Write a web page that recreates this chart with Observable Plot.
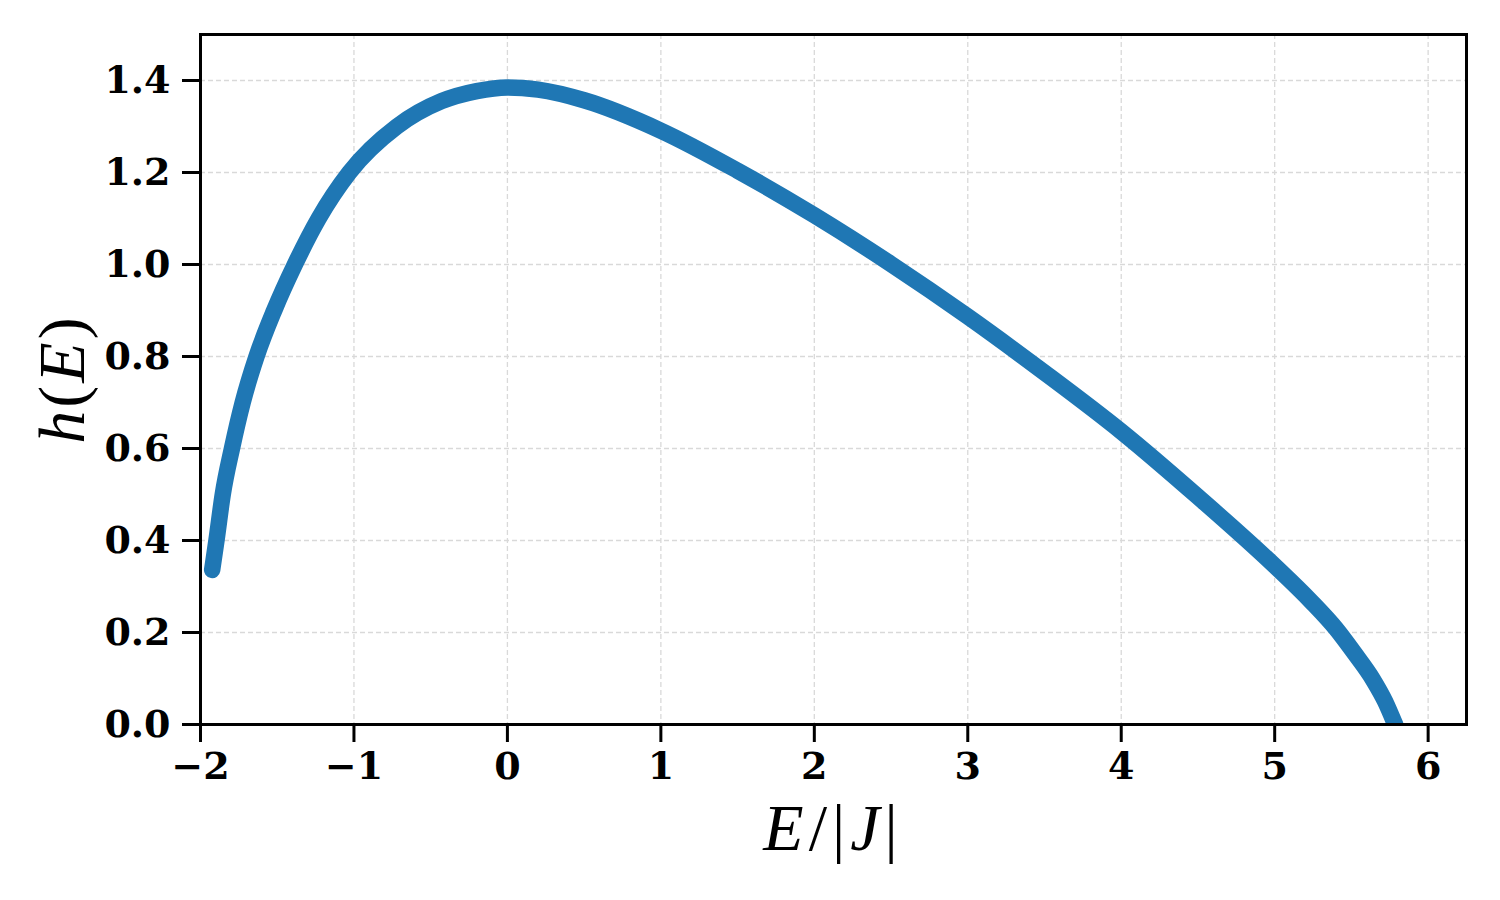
<!DOCTYPE html>
<html><head><meta charset="utf-8">
<script src="https://cdn.jsdelivr.net/npm/d3@7"></script>
<script src="https://cdn.jsdelivr.net/npm/@observablehq/plot@0.6"></script>
<style>body{margin:0;background:#fff}</style>
</head><body><div id="chart"></div>
<script>
const energy = [-1.924, -1.896, -1.855, -1.795, -1.725, -1.635, -1.52, -1.385, -1.23, -1.03, -0.72, -0.43, -0.2, 0, 0.2, 0.5, 1.0, 1.5, 2.0, 2.5, 3.0, 3.5, 4.0, 4.5, 5.0, 5.236, 5.40, 5.52, 5.64, 5.72, 5.785];
const entropy = [0.336, 0.40, 0.50, 0.60, 0.70, 0.80, 0.90, 1.00, 1.10, 1.20, 1.30, 1.355, 1.377, 1.385, 1.380, 1.357, 1.291, 1.204, 1.107, 1.001, 0.887, 0.765, 0.637, 0.495, 0.345, 0.268, 0.208, 0.155, 0.098, 0.05, 0.0];
const xTicks = [-2, -1, 0, 1, 2, 3, 4, 5, 6];
const yTicks = [0, 0.2, 0.4, 0.6, 0.8, 1.0, 1.2, 1.4];
const xDomain = [-2, 6.25];
const yDomain = [0, 1.5];

const data = energy.map((e, i) => ({e, h: entropy[i]}));
const tickFont = {fontFamily: "DejaVu Serif", fontSize: 38, fontWeight: "bold", fill: "#000"};
const grid = {stroke: "#d9d9d9", strokeOpacity: 1, strokeWidth: 1.3, strokeDasharray: "5,3"};

const plot = Plot.plot({
  width: 1500, height: 900,
  marginLeft: 200, marginRight: 34, marginTop: 34, marginBottom: 176,
  style: {background: "#fff", fontFamily: "DejaVu Serif", color: "#000"},
  x: {domain: xDomain},
  y: {domain: yDomain},
  marks: [
    Plot.gridX(xTicks, grid),
    Plot.gridY(yTicks, grid),
    Plot.line(data, {x: "e", y: "h", stroke: "#1f77b4", strokeWidth: 16.5, strokeLinecap: "round", strokeLinejoin: "round", curve: "monotone-x", clip: true}),
    Plot.frame({stroke: "#000", strokeWidth: 3}),
    Plot.axisX(xTicks, {tickSize: 18, tickPadding: 10, strokeWidth: 3, stroke: "#000", label: null,
      tickFormat: d => (d < 0 ? "\u2212" : "") + Math.abs(d), ...tickFont}),
    Plot.axisY(yTicks, {tickSize: 18, tickPadding: 12, strokeWidth: 3, stroke: "#000", label: null,
      tickFormat: d => d.toFixed(1), ...tickFont})
  ]
});
document.getElementById("chart").appendChild(plot);

const svg = d3.select(plot);
const xr = plot.scale("x").range, yr = plot.scale("y").range;
const cx = (xr[0] + xr[1]) / 2, cy = (yr[0] + yr[1]) / 2;

function addParts(t, parts) {
  parts.forEach(([s, it]) => t.append("tspan").attr("font-style", it ? "italic" : "normal").text(s));
}
const xl = svg.append("text").attr("x", cx).attr("y", yr[0] + 126)
  .attr("text-anchor", "middle").attr("font-family", "Liberation Serif").attr("font-size", 66)
  .attr("letter-spacing", 5).attr("fill", "#000");
addParts(xl, [["E", true], ["/", false], ["|", false], ["J", true], ["|", false]]);

const yl = svg.append("text").attr("transform", `translate(${xr[0] - 116},${cy}) rotate(-90)`)
  .attr("text-anchor", "middle").attr("font-family", "Liberation Serif").attr("font-size", 66)
  .attr("letter-spacing", 3).attr("fill", "#000");
addParts(yl, [["h", true], ["(", false], ["E", true], [")", false]]);
</script>
</body></html>
